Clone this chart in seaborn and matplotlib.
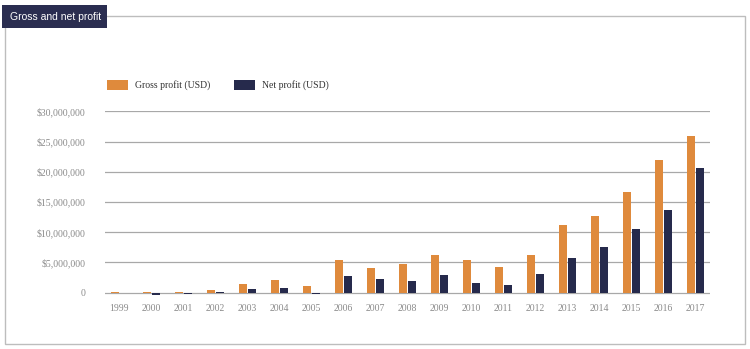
import matplotlib
matplotlib.use("Agg")
import matplotlib.pyplot as plt
import seaborn as sns
import pandas as pd
from matplotlib.patches import Rectangle
from matplotlib.ticker import FuncFormatter

years = [str(y) for y in range(1999, 2018)]
gross_profit = [0.05, 0.03, 0.1, 0.45, 1.4, 2.0, 1.0, 5.4, 4.1, 4.8, 6.2, 5.3, 4.3,
                6.2, 11.2, 12.6, 16.7, 21.9, 25.9]
net_profit = [-0.08, -0.38, -0.32, 0.15, 0.6, 0.7, -0.28, 2.8, 2.2, 1.9, 2.9, 1.65, 1.3,
              3.1, 5.7, 7.6, 10.5, 13.7, 20.6]
series_names = ["Gross profit (USD)", "Net profit (USD)"]
colors = ["#DF8A3C", "#262A4C"]

df = pd.DataFrame({
    "year": years * 2,
    "value": [v * 1e6 for v in gross_profit + net_profit],
    "series": [series_names[0]] * len(years) + [series_names[1]] * len(years),
})

W, H = 750, 349
fig = plt.figure(figsize=(W / 100, H / 100), dpi=100)
fig.patch.set_facecolor("white")

# frame
fig.add_artist(Rectangle((5 / W, 1 - 344 / H), 740 / W, (344 - 16) / H,
                         transform=fig.transFigure, fill=False,
                         edgecolor="#BDBDBD", linewidth=1.0))
# title box
fig.add_artist(Rectangle((2 / W, 1 - 28 / H), 105 / W, 23 / H,
                         transform=fig.transFigure, facecolor="#2A2D50",
                         edgecolor="none"))
fig.text(10 / W, 1 - 16.5 / H, "Gross and net profit", color="white",
         fontsize=7.5, family="Liberation Sans", va="center", ha="left", zorder=5)

ax_left = 105 / W
ax_right = 710 / W
ymin, ymax = -1.0e6, 30.0e6
y_top_px, y_zero_px = 111, 292.5
px_per = (y_zero_px - y_top_px) / ymax
y_bottom_px = y_zero_px + (-ymin) * px_per
ax = fig.add_axes([ax_left, 1 - y_bottom_px / H, ax_right - ax_left,
                   (y_bottom_px - y_top_px) / H])

sns.barplot(data=df, x="year", y="value", hue="series", palette=colors,
            width=0.58, gap=0.15, ax=ax, legend=False, saturation=1)

ax.set_ylim(ymin, ymax + 0.05e6)
ax.set_xlim(-0.45, 18.45)
ax.set_yticks([0, 5e6, 10e6, 15e6, 20e6, 25e6, 30e6])
ax.yaxis.set_major_formatter(FuncFormatter(lambda v, p: "0" if v == 0 else f"${v:,.0f}"))
ax.grid(axis="y", color="#A8A8A8", linewidth=0.9)
ax.set_axisbelow(True)
for s in ax.spines.values():
    s.set_visible(False)
ax.tick_params(axis="both", length=0, labelsize=7.0, labelcolor="#8A8A8A")
ax.tick_params(axis="y", pad=14)
ax.tick_params(axis="x", pad=4)
for lab in ax.get_xticklabels() + ax.get_yticklabels():
    lab.set_family("Liberation Serif")
ax.set_xlabel("")
ax.set_ylabel("")
ax.set_facecolor("none")

# legend
ly = 1 - 85 / H
for x0, c, name in [(107, colors[0], series_names[0]), (234, colors[1], series_names[1])]:
    fig.add_artist(Rectangle((x0 / W, ly - 5 / H), 21 / W, 10 / H,
                             transform=fig.transFigure, facecolor=c, edgecolor="none"))
    fig.text((x0 + 28) / W, ly, name, fontsize=7.0, family="Liberation Serif",
             color="#333333", va="center", ha="left")

fig.savefig("out.png", dpi=100)
